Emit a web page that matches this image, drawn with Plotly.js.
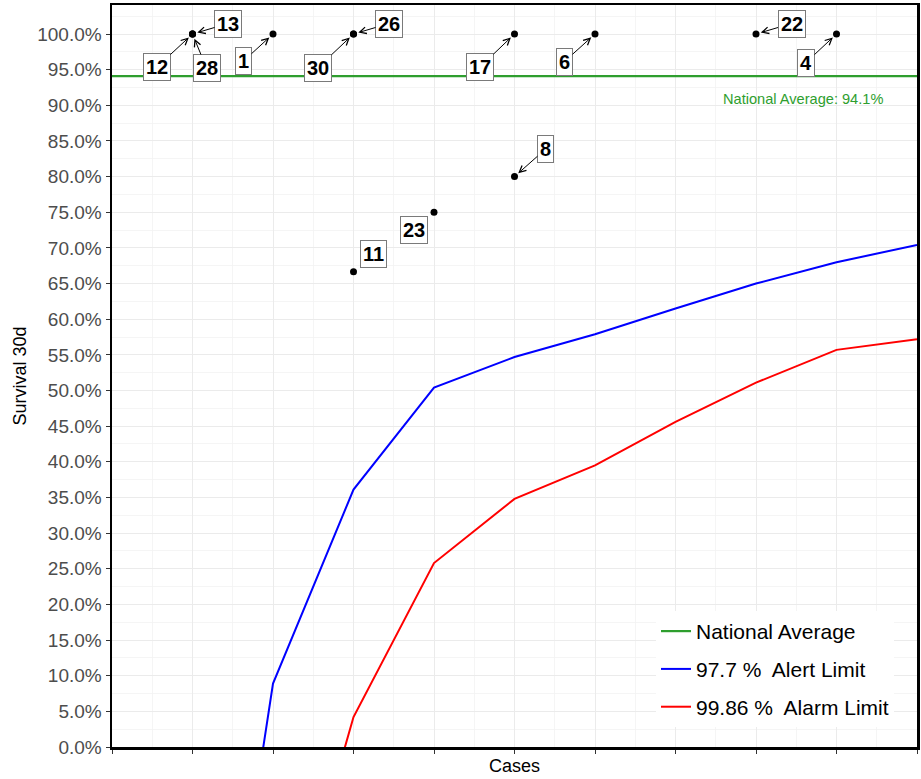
<!DOCTYPE html>
<html>
<head>
<meta charset="utf-8">
<script src="https://cdn.plot.ly/plotly-3.0.1.min.js"></script>
<style>html,body{margin:0;padding:0;background:#fff;}#chart{width:921px;height:779px;}</style>
</head>
<body>
<div id="chart"></div>
<script>
// ---- data ----
const nationalAverage = 0.941;
const limitCases = [1, 2, 3, 4, 5, 6, 7, 8, 9, 10];
const alertLimit = [-0.65, 0.089, 0.361, 0.504, 0.547, 0.579, 0.615, 0.650, 0.680, 0.704];
const alarmLimit = [-1.0, -0.354, 0.042, 0.258, 0.348, 0.395, 0.456, 0.511, 0.557, 0.572];
const unitCases = [1, 1, 1, 2, 3, 3, 3, 4, 5, 5, 6, 8, 9];
const unitSurvival = [1.0, 1.0, 1.0, 1.0, 1.0, 1.0, 0.6667, 0.75, 1.0, 0.8, 1.0, 1.0, 1.0];
const unitLabels = ["12", "13", "28", "1", "30", "26", "11", "23", "17", "8", "6", "22", "4"];

// ---- label placement (pixel offsets from point; flag = draw arrow) ----
const labelOffsets = [
  [-35.5, 33, true], [35.5, -10.5, true], [14, 34, true], [-29.5, 27, true],
  [-35.5, 33.5, true], [35.5, -10.5, true], [20, -17.7, false], [-20, 18, false],
  [-34.5, 33, true], [31, -27.5, true], [-30.5, 27.5, true], [35.5, -10.5, true],
  [-30.5, 28.5, true]
];

const green = '#2e9e2e';
const FONT = 'Liberation Sans, Arial, sans-serif';

const traces = [
  {
    x: [0, 10], y: [nationalAverage, nationalAverage], mode: 'lines',
    name: 'National Average', legendgroup: 'a',
    line: {color: green, width: 2.2}, hoverinfo: 'skip'
  },
  {
    x: limitCases, y: alertLimit, mode: 'lines',
    name: '97.7 %  Alert Limit', legendgroup: 'b',
    line: {color: '#0000ff', width: 2}
  },
  {
    x: limitCases, y: alarmLimit, mode: 'lines',
    name: '99.86 %  Alarm Limit', legendgroup: 'c',
    line: {color: '#ff0000', width: 2}
  },
  {
    x: unitCases, y: unitSurvival, mode: 'markers', showlegend: false,
    marker: {color: '#000', size: 7}, text: unitLabels
  }
];

const annotations = unitLabels.map((lab, i) => {
  const off = labelOffsets[i];
  const base = {
    x: unitCases[i], y: unitSurvival[i], xref: 'x', yref: 'y',
    text: lab,
    font: {family: FONT, size: 20, color: '#000', weight: 'bold'},
    bgcolor: '#fff', bordercolor: '#7a7a7a', borderwidth: 1, borderpad: 2
  };
  if (off[2]) {
    return Object.assign(base, {
      showarrow: true, ax: off[0], ay: off[1], axref: 'pixel', ayref: 'pixel',
      arrowhead: 5, arrowsize: 1.3, arrowwidth: 1, arrowcolor: '#000', standoff: 5
    });
  }
  return Object.assign(base, {showarrow: false, xshift: off[0], yshift: -off[1]});
});

annotations.push({
  x: 8.584, y: 0.9088, xref: 'x', yref: 'y', showarrow: false,
  text: 'National Average: ' + (nationalAverage * 100).toFixed(1) + '%',
  font: {family: FONT, size: 14.6, color: green}
});

const layout = {
  width: 921, height: 779,
  margin: {l: 112, r: 4, t: 5, b: 32},
  paper_bgcolor: '#fff', plot_bgcolor: '#fff',
  font: {family: FONT},
  showlegend: true,
  legend: {
    x: 0.9714, y: 0.027, xanchor: 'right', yanchor: 'bottom',
    bgcolor: '#fff', borderwidth: 0,
    font: {family: FONT, size: 21, color: '#000'},
    tracegroupgap: 7.5
  },
  xaxis: {
    range: [0, 10], dtick: 1, tick0: 0,
    showticklabels: false, ticks: 'outside', ticklen: 4, tickcolor: '#333',
    showgrid: true, gridcolor: '#ebebeb', gridwidth: 1,
    minor: {dtick: 0.5, showgrid: true, gridcolor: '#f2f2f2', gridwidth: 0.8},
    zeroline: false,
    showline: true, mirror: true, linecolor: '#000', linewidth: 2.5,
    title: {text: 'Cases', font: {family: FONT, size: 18, color: '#000'}, standoff: 7}
  },
  yaxis: {
    range: [0, 1.0407], dtick: 0.05, tick0: 0, tickformat: '.1%',
    ticks: 'outside', ticklen: 4, tickcolor: '#333',
    tickfont: {family: FONT, size: 19, color: '#4d4d4d'},
    showgrid: true, gridcolor: '#ebebeb', gridwidth: 1,
    minor: {dtick: 0.025, showgrid: true, gridcolor: '#f2f2f2', gridwidth: 0.8},
    zeroline: false,
    showline: true, mirror: true, linecolor: '#000', linewidth: 2.5,
    title: {text: 'Survival 30d', font: {family: FONT, size: 18, color: '#000'}, standoff: 6}
  },
  annotations: annotations
};

Plotly.newPlot('chart', traces, layout, {displayModeBar: false, staticPlot: true});
</script>
</body>
</html>
